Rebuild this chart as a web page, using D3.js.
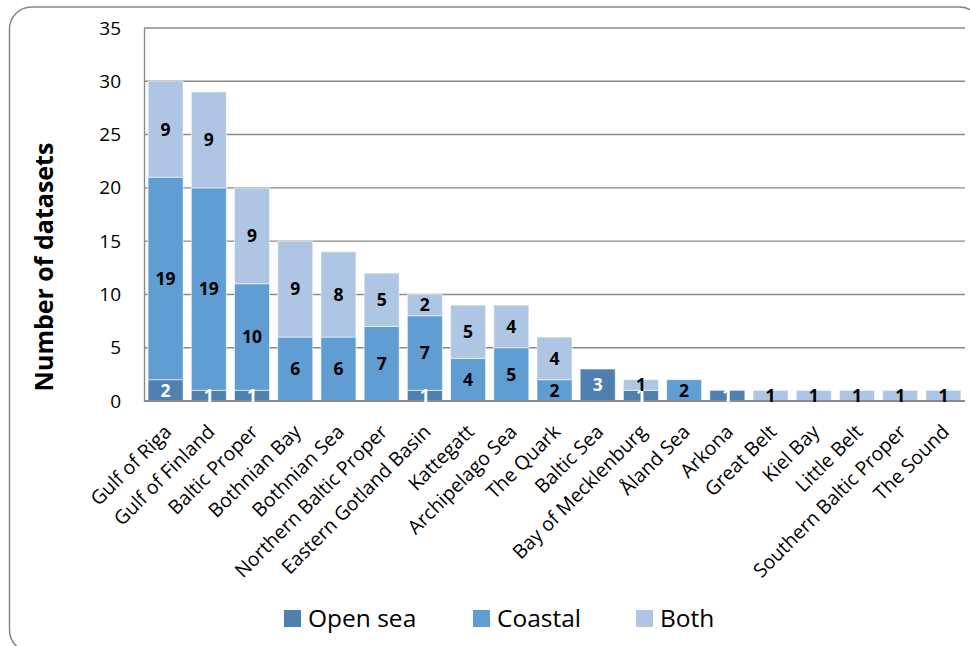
<!DOCTYPE html>
<html>
<head>
<meta charset="utf-8">
<script src="https://cdn.jsdelivr.net/npm/d3@7"></script>
<style>
  html, body { margin: 0; padding: 0; background: #fff; }
  svg { display: block; font-family: "Open Sans", "Noto Sans", sans-serif; }
</style>
</head>
<body>
<svg id="chart" width="970" height="646"></svg>
<script>
// Datasets per Baltic sub-basin, split by sampling environment
const categories = ["Gulf of Riga", "Gulf of Finland", "Baltic Proper", "Bothnian Bay", "Bothnian Sea",
  "Northern Baltic Proper", "Eastern Gotland Basin", "Kattegatt", "Archipelago Sea", "The Quark",
  "Baltic Sea", "Bay of Mecklenburg", "Åland Sea", "Arkona", "Great Belt", "Kiel Bay", "Little Belt",
  "Southern Baltic Proper", "The Sound"];
const openSea = [2, 1, 1, 0, 0, 0, 1, 0, 0, 0, 3, 1, 0, 1, 0, 0, 0, 0, 0];
const coastal = [19, 19, 10, 6, 6, 7, 7, 4, 5, 2, 0, 0, 2, 0, 0, 0, 0, 0, 0];
const both    = [9, 9, 9, 9, 8, 5, 2, 5, 4, 4, 0, 1, 0, 0, 1, 1, 1, 1, 1];
const seriesNames = ["Open sea", "Coastal", "Both"];
const yTicks = [0, 5, 10, 15, 20, 25, 30, 35];

const colors = { "Open sea": "#4f80b0", "Coastal": "#5f9dd3", "Both": "#aec6e4" };
const labelColors = { "Open sea": "#ffffff", "Coastal": "#000000", "Both": "#000000" };

const rows = categories.map((c, i) => ({ cat: c, "Open sea": openSea[i], "Coastal": coastal[i], "Both": both[i] }));
const stacked = d3.stack().keys(seriesNames)(rows);

const svg = d3.select("#chart");

// rounded outer frame
svg.append("rect")
  .attr("x", 9.5).attr("y", 7).attr("width", 972).attr("height", 645)
  .attr("rx", 22).attr("ry", 22)
  .attr("fill", "none").attr("stroke", "#878787").attr("stroke-width", 1.5);

const plotLeft = 144, plotRight = 965, plotTop = 28, plotBottom = 401;
const x = d3.scaleBand().domain(categories).range([plotLeft, plotRight]).paddingInner(0.19).paddingOuter(0.095);
const y = d3.scaleLinear().domain([0, 35]).range([plotBottom, plotTop]);

// gridlines
svg.append("g").selectAll("line").data(yTicks.filter(t => t > 0)).join("line")
  .attr("x1", plotLeft).attr("x2", plotRight)
  .attr("y1", d => y(d)).attr("y2", d => y(d))
  .attr("stroke", "#8a8a8a").attr("stroke-width", 1.4);

// y axis
const yAxis = svg.append("g").attr("transform", `translate(${plotLeft},0)`)
  .call(d3.axisLeft(y).tickValues(yTicks).tickSize(0).tickPadding(23));
yAxis.select(".domain").attr("stroke", "#8a8a8a").attr("stroke-width", 1.4);
yAxis.selectAll("text").attr("font-size", 19).attr("fill", "#000")
  .attr("font-family", "'Open Sans', sans-serif");

// bars
const layers = svg.append("g").selectAll("g").data(stacked).join("g")
  .attr("fill", d => colors[d.key]);
layers.selectAll("rect").data(d => d.map(v => ({ v, key: d.key })).filter(d => d.v[1] - d.v[0] > 0)).join("rect")
  .attr("x", d => x(d.v.data.cat))
  .attr("width", x.bandwidth())
  .attr("y", d => y(d.v[1]))
  .attr("height", d => y(d.v[0]) - y(d.v[1]))
  .attr("stroke", "rgba(255,255,255,0.55)").attr("stroke-width", 1);

// x axis baseline
svg.append("line").attr("x1", plotLeft).attr("x2", plotRight).attr("y1", plotBottom).attr("y2", plotBottom)
  .attr("stroke", "#8a8a8a").attr("stroke-width", 2);

// segment value labels
const labels = svg.append("g");
stacked.forEach(layer => {
  layer.forEach(v => {
    const val = v[1] - v[0];
    if (val <= 0) return;
    labels.append("text")
      .attr("x", x(v.data.cat) + x.bandwidth() / 2)
      .attr("y", (y(v[0]) + y(v[1])) / 2)
      .attr("dy", "0.36em")
      .attr("text-anchor", "middle")
      .attr("font-size", 17.5).attr("font-weight", "bold")
      .attr("fill", labelColors[layer.key])
      .text(val);
  });
});

// category labels, rotated
svg.append("g").selectAll("text").data(categories).join("text")
  .attr("transform", d => `translate(${x(d) + x.bandwidth() / 2 + 7},${plotBottom + 32}) rotate(-45)`)
  .attr("text-anchor", "end")
  .attr("font-size", 19.5).attr("fill", "#000")
  .text(d => d);

// y axis title
svg.append("text")
  .attr("transform", `translate(53,267) rotate(-90)`)
  .attr("text-anchor", "middle")
  .attr("font-size", 25).attr("font-weight", "bold").attr("fill", "#000")
  .text("Number of datasets");

// legend
const legendX = [284, 473, 636];
const legend = svg.append("g").selectAll("g").data(seriesNames).join("g")
  .attr("transform", (d, i) => `translate(${legendX[i]},618)`);
legend.append("rect").attr("x", 0).attr("y", -8).attr("width", 17).attr("height", 17)
  .attr("fill", d => colors[d]);
legend.append("text").attr("x", 24).attr("y", 0).attr("dy", "0.35em")
  .attr("font-size", 24.5).attr("fill", "#000").text(d => d);
</script>
</body>
</html>
